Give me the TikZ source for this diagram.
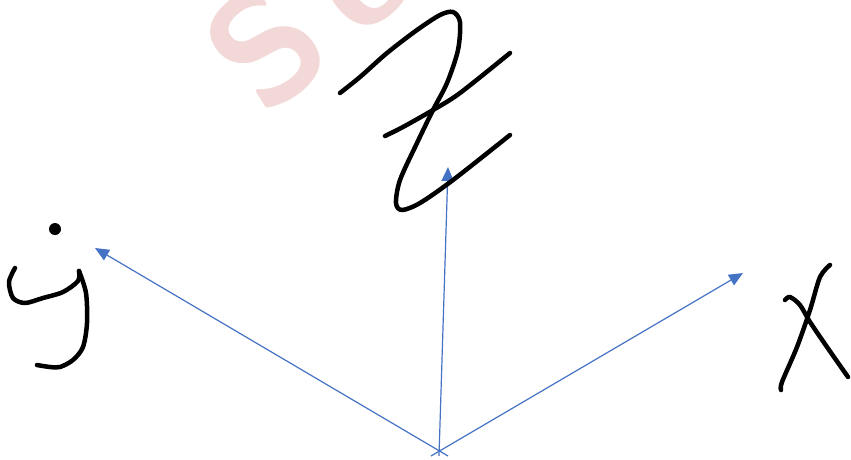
\documentclass[tikz,border=0pt]{standalone}
\usetikzlibrary{arrows.meta}

\definecolor{axisblue}{RGB}{68,114,196}
\definecolor{markpink}{RGB}{243,216,216}

\tikzset{
  axis/.style={draw=axisblue, line width=1.2pt, -{Triangle[length=14pt,width=12pt]}},
  pen/.style={line width=4.5pt, line cap=round, line join=round},
  marktext/.style={text=markpink, rotate=42, inner sep=0pt, font=\sffamily\bfseries\fontsize{158}{158}\selectfont}
}

\begin{document}
\begin{tikzpicture}[x=1pt,y=-1pt]

\useasboundingbox (0,0) rectangle (851,459);

% faint mark in the corner
\begin{scope}
\clip (0,0) rectangle (851,459);
\node[marktext] (markS) at (266,46) {S};
\node[marktext] (markO) at (368,-16) {o};
\end{scope}

% axes
\coordinate (O) at (439,451);
\coordinate (ytip) at (95,248);
\coordinate (ztip) at (448,167);
\coordinate (xtip) at (743,273);
\coordinate (ylow) at (448,456);
\coordinate (zlow) at (439,456);
\coordinate (xlow) at (431,456);

\draw[axis] (ylow) -- (ytip);
\draw[axis] (zlow) -- (ztip);
\draw[axis] (xlow) -- (xtip);

% handwritten y
\fill (55,229) circle (6pt);
\draw[pen] plot[smooth] coordinates {(15,268) (9,282) (13,298) (25,303) (43,298) (63,292) (78,281) (79,271)};
\draw[pen] plot[smooth] coordinates {(79,271) (86,293) (87,323) (83,347) (73,360) (60,367) (50,367) (37,365)};

% handwritten z
\draw[pen] plot[smooth] coordinates {(340,93) (360,77) (387,53) (417,30) (440,15) (453,12) (460,22) (458,50) (447,83) (433,110) (417,143) (400,180) (396,203) (402,210) (420,203) (453,180) (510,135)};
\draw[pen] plot[smooth] coordinates {(385,136) (403,127) (433,110) (460,93) (510,53)};

% handwritten x
\draw[pen] plot[smooth] coordinates {(830,265) (820,277) (810,310) (797,347) (782,382) (781,390)};
\draw[pen] plot[smooth] coordinates {(785,300) (790,297) (800,305) (810,322) (827,347) (848,377)};

\end{tikzpicture}
\end{document}
